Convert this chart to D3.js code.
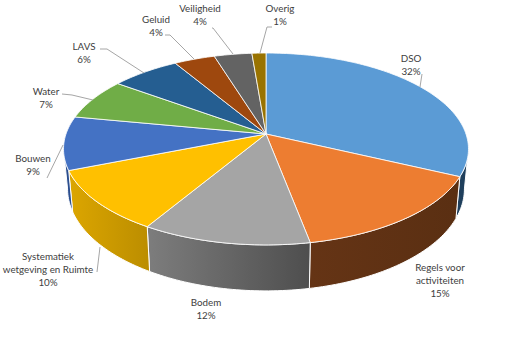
<!DOCTYPE html>
<html>
<head>
<meta charset="utf-8">
<script src="https://d3js.org/d3.v7.min.js"></script>
<style>
  html, body { margin: 0; padding: 0; background: #fff; }
  svg { display: block; }
  text { font-family: Lato, "Open Sans", sans-serif; font-size: 9.8px; fill: #404040; }
</style>
</head>
<body>
<div id="main"></div>
<script>
const categories = ['DSO', 'Regels voor activiteiten', 'Bodem', 'Systematiek wetgeving en Ruimte', 'Bouwen', 'Water', 'LAVS', 'Geluid', 'Veiligheid', 'Overig'];
const values = [32, 15, 11.6, 10.4, 9, 7, 6.4, 3.8, 3.5, 1.3];
const topColors = ['#5b9bd5', '#ed7d31', '#a5a5a5', '#ffc000', '#4472c4', '#70ad47', '#255e91', '#9e480e', '#636363', '#997300'];
const sideStart = ['#1f3f5c', '#653415', '#7d7d7d', '#dca600', '#2c4f8f', '#4d7831', '#1a4166', '#6d320a', '#444444', '#6a5000'];
const sideEnd = ['#1f3f5c', '#5a2f12', '#4e4e4e', '#bc8e00', '#2c4f8f', '#4d7831', '#1a4166', '#6d320a', '#444444', '#6a5000'];

// text lines and leader lines per slice, in the same order as categories
const labelLines = [['DSO'], ['Regels voor', 'activiteiten'], ['Bodem'], ['Systematiek', 'wetgeving en Ruimte'], ['Bouwen'], ['Water'], ['LAVS'], ['Geluid'], ['Veiligheid'], ['Overig']];
const labelPos = [[411, 58], [440, 267], [206, 302], [48, 256], [33, 158], [46, 91], [84, 46], [156, 19], [200, 8], [280, 8]];
const leaders = [
  [[422, 74], [420, 87]],
  null,
  null,
  [[97, 272], [100, 247]],
  [[47, 178], [63, 145]],
  [[62, 94], [72, 95], [93, 100]],
  [[100, 49], [107, 49], [144, 73]],
  [[165, 35], [170, 35], [194, 59]],
  [[212, 28], [213, 28], [233, 54]],
  [[272, 27], [267, 27], [260, 53]]
];

const config = {width: 514, height: 358, cx: 266, persp: 0.156,
  top: {a: 200, b: 93.6, cy: 134},
  bottom: {a: 196, b: 99.5, cy: 173}};

// circle seen in perspective: the far side is squeezed, so the centre sits above the middle
function project(plane, t) {
  const k = 1 + config.persp * Math.cos(t);
  return [config.cx + plane.a * Math.sin(t) / k, plane.cy - plane.b * Math.cos(t) / k];
}

function arcPoints(plane, t0, t1) {
  const n = Math.max(2, Math.ceil(Math.abs(t1 - t0) / 0.02));
  return d3.range(n + 1).map(i => project(plane, t0 + (t1 - t0) * i / n));
}

const svg = d3.select('#main').append('svg')
  .attr('width', config.width)
  .attr('height', config.height);

const pie = d3.pie().sort(null).value(d => d)(values);
const line = d3.line();
const visibleFrom = Math.PI - Math.acos(config.persp);
const visibleTo = Math.PI + Math.acos(config.persp);

const defs = svg.append('defs');

// rim first, only the part that faces the viewer
pie.forEach((p, i) => {
  const t0 = Math.max(p.startAngle, visibleFrom);
  const t1 = Math.min(p.endAngle, visibleTo);
  if (t1 <= t0) return;
  const upper = arcPoints(config.top, t0, t1);
  const lower = arcPoints(config.bottom, t1, t0);
  const grad = defs.append('linearGradient')
    .attr('id', 'rim' + i)
    .attr('gradientUnits', 'userSpaceOnUse')
    .attr('x1', Math.min(upper[0][0], upper[upper.length - 1][0]))
    .attr('x2', Math.max(upper[0][0], upper[upper.length - 1][0]))
    .attr('y1', 0).attr('y2', 0);
  grad.append('stop').attr('offset', 0).attr('stop-color', sideStart[i]);
  grad.append('stop').attr('offset', 1).attr('stop-color', sideEnd[i]);
  svg.append('path')
    .attr('d', line(upper.concat(lower)) + 'Z')
    .attr('fill', `url(#rim${i})`)
    .attr('stroke', '#fff')
    .attr('stroke-width', 1)
    .attr('stroke-linejoin', 'round');
});

// top face
const centre = [config.cx, config.top.cy];
pie.forEach((p, i) => {
  svg.append('path')
    .attr('d', line([centre].concat(arcPoints(config.top, p.startAngle, p.endAngle))) + 'Z')
    .attr('fill', topColors[i])
    .attr('stroke', '#fff')
    .attr('stroke-width', 0.8)
    .attr('stroke-linejoin', 'round');
});

// leader lines
leaders.forEach(pts => {
  if (!pts) return;
  svg.append('path')
    .attr('d', line(pts))
    .attr('fill', 'none')
    .attr('stroke', '#a6a6a6')
    .attr('stroke-width', 1);
});

// labels: name lines followed by the rounded percentage
const total = d3.sum(values);
const pct = d3.format('.0%');
categories.forEach((c, i) => {
  const t = svg.append('text')
    .attr('text-anchor', 'middle')
    .attr('x', labelPos[i][0])
    .attr('y', labelPos[i][1] + 3.5);
  labelLines[i].concat(pct(values[i] / total)).forEach((s, j) => {
    t.append('tspan')
      .attr('x', labelPos[i][0])
      .attr('dy', j ? 13 : 0)
      .text(s);
  });
});
</script>
</body>
</html>
